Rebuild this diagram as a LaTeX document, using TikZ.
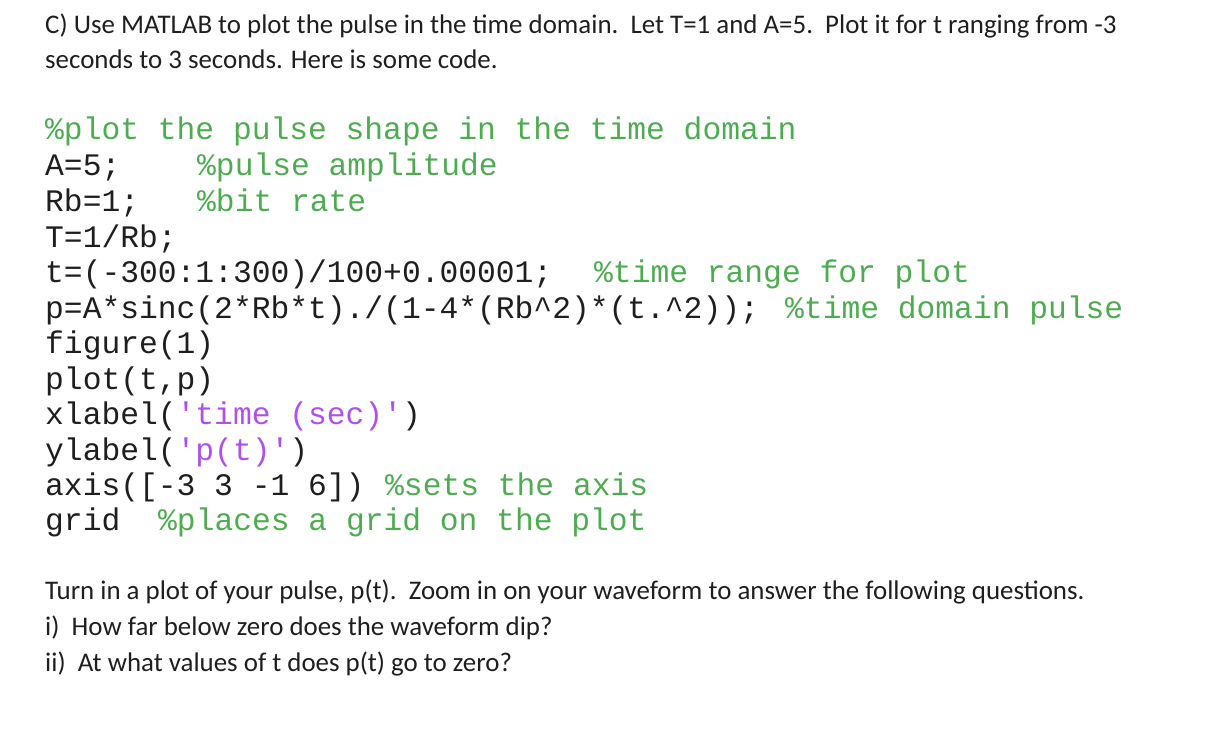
\documentclass[tikz,border=0pt]{standalone}
\usepackage{fontspec}
\setmainfont{Carlito}
\newfontfamily\codefont{Liberation Mono}
\definecolor{cgreen}{RGB}{78,172,80}
\definecolor{cpurple}{RGB}{176,80,236}
\definecolor{ctext}{RGB}{30,30,30}
\begin{document}
\begin{tikzpicture}[x=1pt,y=-1pt,
  txt/.style={anchor=base west,inner sep=0pt,text=ctext,font=\fontsize{26.9}{30}\selectfont},
  code/.style={anchor=base west,inner sep=0pt,text=ctext,font=\codefont\fontsize{31.3}{34}\selectfont},
  cmt/.style={code,text=cgreen},
  str/.style={code,text=cpurple}]
\useasboundingbox (0,0) rectangle (1209,734);
\node[txt] (t1) at (45,33) {C) Use MATLAB to plot the pulse in the time domain.\ \ Let T=1 and A=5.\ \ Plot it for t ranging from -3};
\node[txt] (t2) at (45,68) {seconds to 3 seconds. Here is some code.};
\node[cmt] (c1) at (45,139) {\%plot the pulse shape in the time domain};
\node[code] (c2) at (45,175) {A=5;};
\node[cmt] (c2b) at (197,175) {\%pulse amplitude};
\node[code] (c3) at (45,211) {Rb=1;};
\node[cmt] (c3b) at (197,211) {\%bit rate};
\node[code] (c4) at (45,247) {T=1/Rb;};
\node[code] (c5) at (45,282) {t=(-300:1:300)/100+0.00001;};
\node[cmt] (c5b) at (594,282) {\%time range for plot};
\node[code] (c6) at (45,318) {p=A*sinc(2*Rb*t)./(1-4*(Rb\char`\^2)*(t.\char`\^2));};
\node[cmt] (c6b) at (785,318) {\%time domain pulse};
\node[code] (c7) at (45,353) {figure(1)};
\node[code] (c8) at (45,389) {plot(t,p)};
\node[code] (c9) at (45,424) {xlabel(\textcolor{cpurple}{'time (sec)'})};
\node[code] (c10) at (45,460) {ylabel(\textcolor{cpurple}{'p(t)'})};
\node[code] (c11) at (45,495) {axis([-3 3 -1 6])};
\node[cmt] (c11b) at (385,495) {\%sets the axis};
\node[code] (c12) at (45,530) {grid};
\node[cmt] (c12b) at (158,530) {\%places a grid on the plot};
\node[txt] (q1) at (45,599) {Turn in a plot of your pulse, p(t).\ \ Zoom in on your waveform to answer the following questions.};
\node[txt] (q2) at (45,635) {i)\ \ How far below zero does the waveform dip?};
\node[txt] (q3) at (45,671) {ii)\ \ At what values of t does p(t) go to zero?};
\end{tikzpicture}
\end{document}
